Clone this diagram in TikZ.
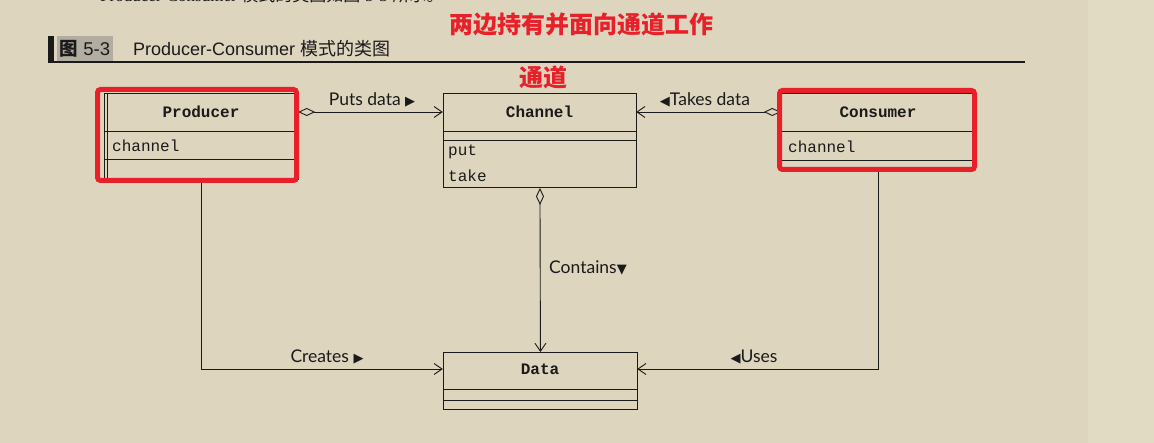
\documentclass[tikz,border=0pt]{standalone}
\usepackage{fontspec}
\setmainfont{Liberation Sans}
\newfontfamily\monof{Liberation Mono}
\newfontfamily\labf{Lato}
\newfontfamily\cjk{Noto Sans CJK SC}
\newfontfamily\symf{DejaVu Sans}
\newfontfamily\serf{Liberation Serif}
\usetikzlibrary{arrows.meta}
\definecolor{bg}{HTML}{DDD5BE}
\definecolor{bgr}{HTML}{E2DBC3}
\definecolor{hl}{HTML}{E8202A}
\definecolor{tagbg}{HTML}{B3ADA1}
\definecolor{ink}{HTML}{1A1A1A}
\newcommand{\rtri}{{\symf\fontsize{13}{13}\selectfont ▶}}
\newcommand{\ltri}{{\symf\fontsize{13}{13}\selectfont ◀}}
\newcommand{\dtri}{{\symf\fontsize{13}{13}\selectfont ▼}}
\begin{document}
\begin{tikzpicture}[x=1pt,y=-1pt,
  umlbox/.style={draw=ink, line width=0.9pt, anchor=north west, inner sep=0pt},
  namebox/.style={inner sep=0pt, minimum height=38pt, font=\monof\bfseries\fontsize{16}{16}\selectfont, text=ink},
  attr/.style={anchor=west, inner sep=0pt, font=\monof\fontsize{16}{16}\selectfont, text=ink},
  sep/.style={draw=ink, line width=0.9pt},
  lab/.style={inner sep=0pt, font=\labf\fontsize{17.5}{17.5}\selectfont, text=ink},
  conn/.style={draw=ink, line width=0.9pt, -{Straight Barb[length=8pt,width=11pt,line width=0.9pt]}},
  agg/.style={conn, {Diamond[open,fill=bg,length=17pt,width=8pt,line width=0.9pt]}-{Straight Barb[length=8pt,width=11pt,line width=0.9pt]}},
  hlbox/.style={draw=hl, line width=5pt, rounded corners=3pt},
  hltext/.style={text=hl, inner sep=0pt, font=\cjk\bfseries\fontsize{24}{24}\selectfont}
]
\useasboundingbox (0,0) rectangle (1154,443);
\fill[bg] (0,0) rectangle (1088,443);
\fill[bgr] (1088,0) rectangle (1154,443);

% cut-off line of text at the top
\node[anchor=base west, inner sep=0pt, text=ink, font=\fontsize{17}{17}\selectfont] (toptext) at (100,1.5)
  {{\serf Producer-Consumer} {\cjk 模式的类图如图} {\serf 5-3} {\cjk 所示。}};

% figure caption
\fill[ink] (48,36) rectangle (54,63);
\fill[tagbg] (57,36) rectangle (113,62);
\node[inner sep=0pt, text=ink, font=\fontsize{18.5}{18.5}\selectfont] (tag) at (85,49) {{\cjk\bfseries 图} 5-3};
\node[anchor=west, inner sep=0pt, text=ink, font=\fontsize{18}{18}\selectfont] (caption) at (133,49) {Producer-Consumer {\cjk 模式的类图}};
\draw[ink, line width=2pt] (48,62.5) -- (1025,62.5);

% classes
\node[umlbox, minimum width=194pt, minimum height=86pt] (prod) at (104,93) {};
\node[namebox, minimum width=194pt] (prodname) at (201,112) {Producer};
\draw[sep] (prod.west |- 0,131) -- (prod.east |- 0,131);
\draw[sep] (prod.west |- 0,159) -- (prod.east |- 0,159);
\draw[sep] (107,93) -- (107,179);
\node[attr] (prodch) at (112,146) {channel};

\node[umlbox, minimum width=193pt, minimum height=94pt] (chan) at (443,93) {};
\node[namebox, minimum width=193pt] (channame) at (539.5,112) {Channel};
\draw[sep] (chan.west |- 0,131) -- (chan.east |- 0,131);
\draw[sep] (chan.west |- 0,140) -- (chan.east |- 0,140);
\node[attr] (put) at (448,152) {put};
\node[attr] (take) at (448,176) {take};

\node[umlbox, minimum width=194pt, minimum height=76pt] (cons) at (781,93) {};
\node[namebox, minimum width=194pt] (consname) at (878,112) {Consumer};
\draw[sep] (cons.west |- 0,131) -- (cons.east |- 0,131);
\draw[sep] (cons.west |- 0,160) -- (cons.east |- 0,160);
\node[attr] (consch) at (788,147) {channel};

\node[umlbox, minimum width=194pt, minimum height=57pt] (data) at (443,352) {};
\node[namebox, minimum width=194pt, minimum height=34pt] (dataname) at (540,369) {Data};
\draw[sep] (data.west |- 0,389) -- (data.east |- 0,389);
\draw[sep] (data.west |- 0,400) -- (data.east |- 0,400);

% connectors
\draw[agg] (prodname.east) -- (channame.west);
\draw[agg] (consname.west) -- (channame.east);
\draw[agg] (chan.south) -- (data.north);
\draw[conn] (prod.south) |- (dataname.west);
\draw[conn] (cons.south) |- (dataname.east);

% labels
\node[lab] (lput) at (372,100) {Puts data \rtri};
\node[lab] (ltake) at (705,100) {\ltri Takes data};
\node[lab, anchor=west] (lcont) at (549,268) {Contains\dtri};
\node[lab] (lcreate) at (327,357) {Creates \rtri};
\node[lab] (luse) at (754,357) {\ltri Uses};

% highlight annotations
\draw[hlbox] (97.5,89.5) rectangle (296.5,180.5);
\draw[hlbox] (779.5,90.5) rectangle (974.5,169.5);
\node[hltext] (note1) at (581,24) {两边持有并面向通道工作};
\node[hltext] (note2) at (543,77) {通道};
\end{tikzpicture}
\end{document}
